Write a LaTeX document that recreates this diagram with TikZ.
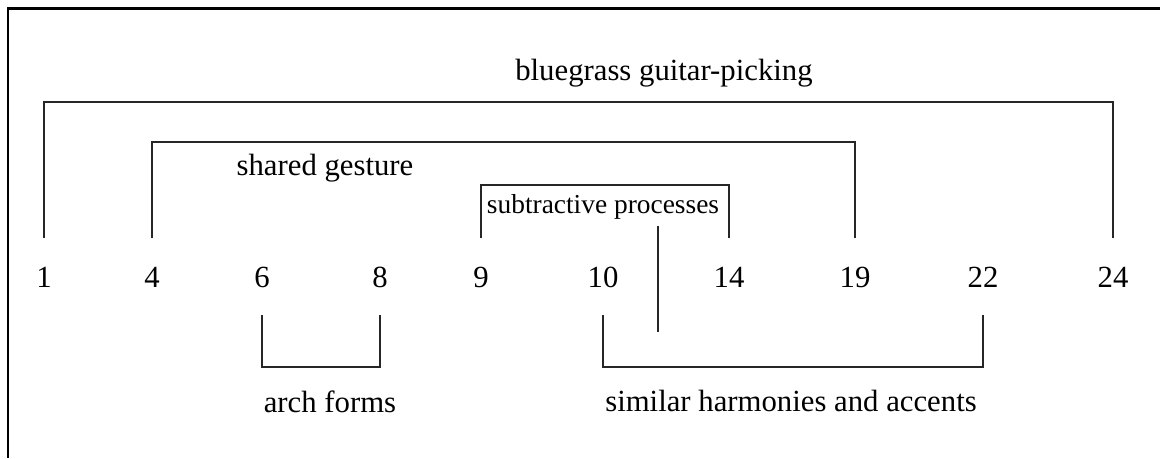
\documentclass[tikz,border=0pt]{standalone}
\usepackage{fontspec}
\setmainfont{Liberation Serif}
\begin{document}
\begin{tikzpicture}[x=0.02cm,y=-0.02cm,
                num/.style={anchor=base,font=\fontsize{17.5}{21}\selectfont,text height=12pt,text depth=0pt,inner sep=0pt,outer sep=16pt},
                lbl/.style={font=\fontsize{17.5}{21}\selectfont,inner sep=1pt},
                brk/.style={draw,line width=1.1pt,black!85}]
                \useasboundingbox (0,0) rectangle (1160,458);
                \draw[line width=1.7pt] (8,458) -- (8,8) -- (1160,8);

                \path (44,287) node[num] (n1) {1};
                \path (152,287) node[num] (n4) {4};
                \path (262,287) node[num] (n6) {6};
                \path (380,287) node[num] (n8) {8};
                \path (481,287) node[num] (n9) {9};
                \path (603,287) node[num] (n10) {10};
                \path (729,287) node[num] (n14) {14};
                \path (855,287) node[num] (n19) {19};
                \path (983,287) node[num] (n22) {22};
                \path (1113,287) node[num] (n24) {24};

                \path (664,73) node[lbl] (blue) {bluegrass guitar-picking};
                \path (325,168) node[lbl] (gest) {shared gesture};
                \path (603,207) node[lbl,font=\fontsize{15.6}{19}\selectfont] (subtr) {subtractive processes};
                \path (330,402) node[lbl] (arch) {arch forms};
                \path (791,401) node[lbl] (harm) {similar harmonies and accents};

                \coordinate (bluetop) at (580,102);
                \coordinate (gesttop) at (500,142);
                \coordinate (subtrtop) at (600,185);
                \coordinate (archbot) at (320,367);
                \coordinate (harmbot) at (790,367);
                \coordinate (stemtop) at (658,226);
                \coordinate (stembot) at (658,332);

                \draw[brk] (n1.north) |- (bluetop) -| (n24.north);
                \draw[brk] (n4.north) |- (gesttop) -| (n19.north);
                \draw[brk] (n9.north) |- (subtrtop) -| (n14.north);
                \draw[brk] (n6.south) |- (archbot) -| (n8.south);
                \draw[brk] (n10.south) |- (harmbot) -| (n22.south);
                \draw[brk] (stemtop) -- (stembot);
              \end{tikzpicture}
\end{document}
